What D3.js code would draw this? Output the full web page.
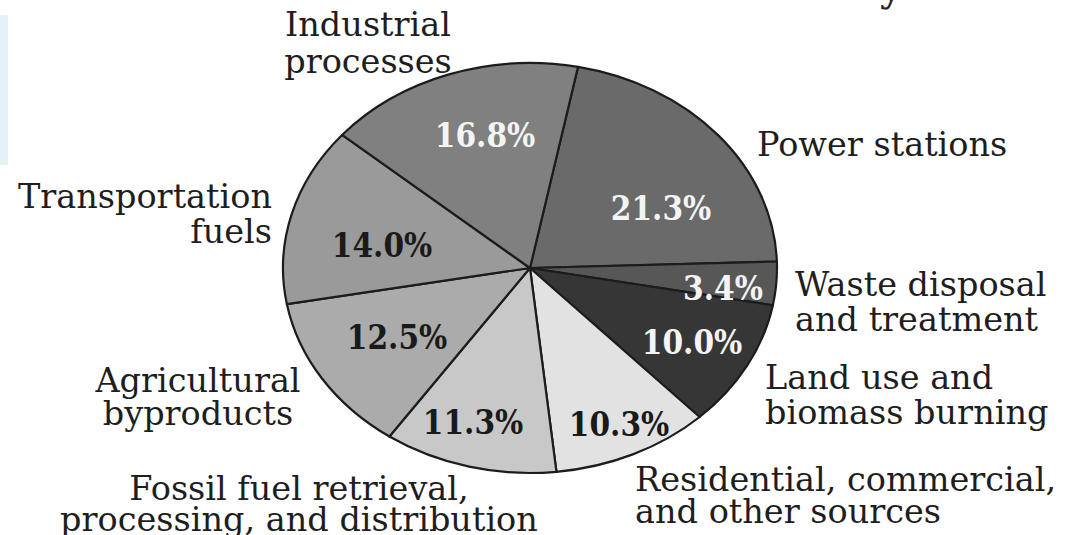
<!DOCTYPE html>
<html>
<head>
<meta charset="utf-8">
<script src="https://cdn.jsdelivr.net/npm/d3@7"></script>
<style>
  html, body { margin: 0; padding: 0; background: #fff; }
  svg { display: block; }
</style>
</head>
<body>
<svg id="chart" width="1067" height="535"></svg>
<script>
// ---- data ----
const categories = [
  "Power stations",
  "Waste disposal and treatment",
  "Land use and biomass burning",
  "Residential, commercial, and other sources",
  "Fossil fuel retrieval, processing, and distribution",
  "Agricultural byproducts",
  "Transportation fuels",
  "Industrial processes"
];
const values = [21.3, 3.4, 10.0, 10.3, 11.3, 12.5, 14.0, 16.8];
const valueLabels = ["21.3%", "3.4%", "10.0%", "10.3%", "11.3%", "12.5%", "14.0%", "16.8%"];
const fills = ["#6a6a6a", "#575757", "#363636", "#e2e2e2", "#c8c8c8", "#ababab", "#9a9a9a", "#808080"];
const valueTextColors = ["#f4f4f4", "#f4f4f4", "#f4f4f4", "#1a1a1a", "#1a1a1a", "#1a1a1a", "#1a1a1a", "#f4f4f4"];
const categoryLines = [
  ["Power stations"],
  ["Waste disposal", "and treatment"],
  ["Land use and", "biomass burning"],
  ["Residential, commercial,", "and other sources"],
  ["Fossil fuel retrieval,", "processing, and distribution"],
  ["Agricultural", "byproducts"],
  ["Transportation", "fuels"],
  ["Industrial", "processes"]
];

// ---- layout ----
const cx = 530, cy = 268, rx = 247, ry = 205;
const startDeg = 11.2;
const serifCond = "'DejaVu Serif Condensed', 'DejaVu Serif', serif";
const serif = "'DejaVu Serif', serif";
// percent label placement (x, baseline y)
const pctPos = [[661, 220], [723, 300], [692, 354], [619, 436], [473, 434], [397, 349], [382, 257], [485, 147]];
// outer label placement (x, first baseline, anchor, line gap)
const catPos = [
  [757, 156, "start", 35],
  [795, 296, "start", 35],
  [765, 389, "start", 35],
  [635, 491, "start", 32],
  [299, 500, "middle", 31],
  [198, 392, "middle", 33],
  [272, 208, "end", 35],
  [368, 36, "middle", 37]
];

const svg = d3.select("#chart");

// remnants of the source image edges
svg.append("rect").attr("x", 0).attr("y", 15).attr("width", 8).attr("height", 150).attr("fill", "#e4f2f6");
svg.append("text").attr("x", 880).attr("y", 1).attr("font-family", serif).attr("font-size", 40)
  .attr("fill", "#222").text("y");

const pie = d3.pie().sort(null).value(d => d)
  .startAngle(startDeg * Math.PI / 180)
  .endAngle(startDeg * Math.PI / 180 + 2 * Math.PI);
const arcs = pie(values);
const arc = d3.arc().innerRadius(0).outerRadius(ry);

const g = svg.append("g").attr("transform", `translate(${cx},${cy}) scale(${rx / ry},1)`);
g.selectAll("path").data(arcs).join("path")
  .attr("d", arc)
  .attr("fill", (d, i) => fills[i])
  .attr("stroke", "#1c1c1c")
  .attr("stroke-width", 2.2)
  .attr("stroke-linejoin", "round")
  .attr("vector-effect", "non-scaling-stroke");

// percentage labels
svg.selectAll("text.pct").data(arcs).join("text")
  .attr("class", "pct")
  .attr("x", (d, i) => pctPos[i][0])
  .attr("y", (d, i) => pctPos[i][1])
  .attr("text-anchor", "middle")
  .attr("font-family", serifCond)
  .attr("font-weight", "bold")
  .attr("font-size", 33)
  .attr("fill", (d, i) => valueTextColors[i])
  .text((d, i) => valueLabels[i]);

// category labels
categoryLines.forEach((lines, i) => {
  const [x, y, anchor, gap] = catPos[i];
  const t = svg.append("text")
    .attr("x", x).attr("y", y)
    .attr("text-anchor", anchor)
    .attr("font-family", serif)
    .attr("font-size", 33.5)
    .attr("fill", "#1e1e1e");
  lines.forEach((ln, j) => {
    t.append("tspan").attr("x", x).attr("y", y + j * gap).text(ln);
  });
});
</script>
</body>
</html>
